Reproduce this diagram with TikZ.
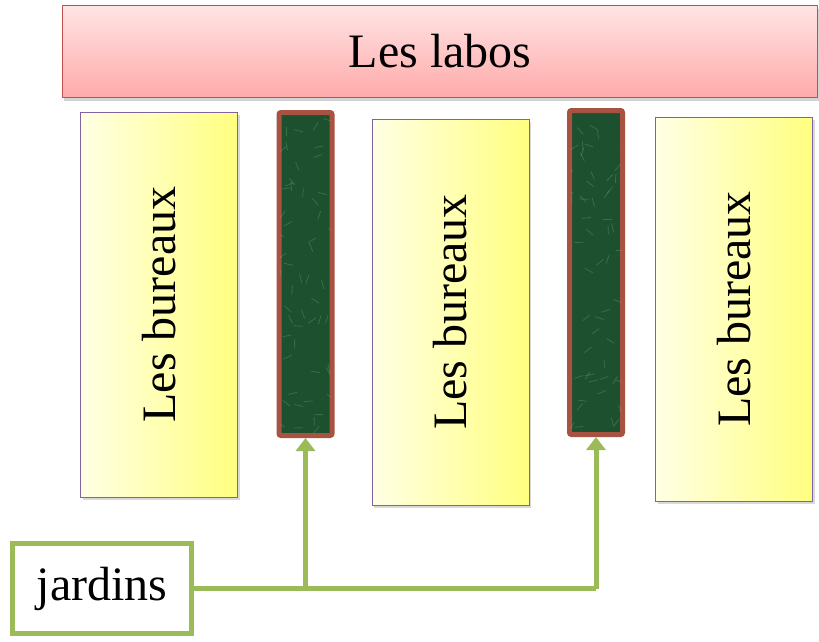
\documentclass[tikz,border=0pt]{standalone}
\usepackage{fontspec}
\setmainfont{Liberation Serif}
\usetikzlibrary{shadows,arrows.meta,calc}
\definecolor{barborder}{RGB}{192,80,77}
\definecolor{bartop}{RGB}{255,228,228}
\definecolor{barbot}{RGB}{255,170,170}
\definecolor{offborder}{RGB}{128,100,162}
\definecolor{offleft}{RGB}{255,255,228}
\definecolor{offright}{RGB}{255,255,128}
\definecolor{gardfill}{RGB}{28,80,46}
\definecolor{gardlight}{RGB}{110,170,120}
\definecolor{gardborder}{RGB}{168,82,66}
\definecolor{linkgreen}{RGB}{155,187,89}
\tikzset{
  bigtext/.style={font=\fontsize{48}{56}\selectfont},
  labbox/.style={draw=barborder, line width=1.2pt, top color=bartop, bottom color=barbot,
    minimum width=755pt, minimum height=92pt, inner sep=0pt, bigtext,
    drop shadow={opacity=0.35, shadow xshift=1pt, shadow yshift=-3pt}},
  officebox/.style={draw=offborder, line width=1pt, left color=offleft, right color=offright,
    minimum width=157pt, inner sep=0pt, bigtext,
    drop shadow={opacity=0.3, shadow xshift=2pt, shadow yshift=-3pt}},
  gardenbox/.style={draw=gardborder, line width=5pt, fill=gardfill, rounded corners=2pt,
    minimum width=53pt, inner sep=0pt},
  jardbox/.style={draw=linkgreen, line width=5pt, fill=white,
    minimum width=179pt, minimum height=90pt, inner sep=0pt, bigtext},
  link/.style={draw=linkgreen, line width=5pt},
  linkarrow/.style={link, -{Triangle[length=13pt,width=19pt]}}
}
\begin{document}
\begin{tikzpicture}[x=1pt,y=-1pt]
\useasboundingbox (0,0) rectangle (819,641);
\node[labbox] (labos) at (440,51.5) {Les labos};
\node[officebox, minimum height=385pt] (b1) at (159,304.5) {};
\node[rotate=90, bigtext] (t1) at (b1.center) {Les bureaux};
\node[officebox, minimum height=386pt] (b2) at (450.5,312) {};
\node[rotate=90, bigtext] (t2) at (b2.center) {Les bureaux};
\node[officebox, minimum height=384pt] (b3) at (734,309) {};
\node[rotate=90, bigtext] (t3) at (b3.center) {Les bureaux};
\node[gardenbox, minimum height=323pt] (g1) at (305.5,274) {};
\node[gardenbox, minimum height=324pt] (g2) at (596,272.5) {};
% texture of the garden strips
\pgfmathsetseed{7}
\foreach \g in {g1,g2}{
  \begin{scope}
    \clip ($(\g.south west)+(3,-3)$) rectangle ($(\g.north east)+(-3,3)$);
    \foreach \i in {1,...,60}{
      \pgfmathsetmacro{\rx}{rnd}
      \pgfmathsetmacro{\ry}{rnd}
      \pgfmathsetmacro{\ra}{rand*180}
      \draw[gardlight, opacity=0.35, line width=0.8pt]
        ($(\g.south west)!\rx!(\g.south east) + (0,-\ry*320)$) -- ++(\ra:9);
    }
  \end{scope}
}
\node[jardbox] (jard) at (102,588.5) {jardins};
\coordinate (c2) at (g2.south |- jard.east);
\coordinate (c1) at (g1.south |- jard.east);
\draw[link] (jard.east) -- (c2);
\draw[linkarrow] (c2) -- (g2.south);
\draw[linkarrow] (c1) -- (g1.south);
\end{tikzpicture}
\end{document}
